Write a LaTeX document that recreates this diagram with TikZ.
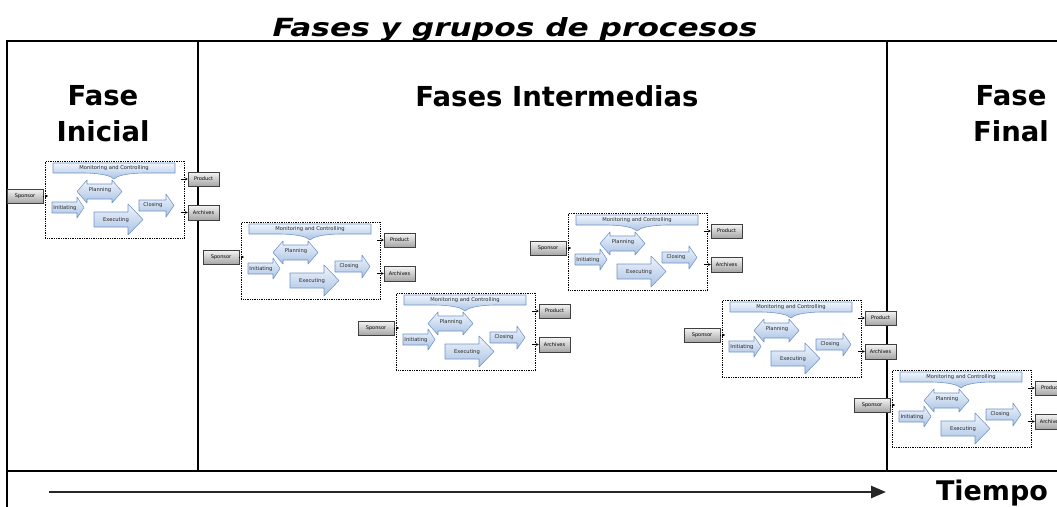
\documentclass[tikz,border=0pt]{standalone}
\usepackage{fontspec}
\setmainfont{DejaVu Sans}
\usetikzlibrary{arrows.meta,shadows,calc}
\definecolor{bluefillA}{HTML}{F0F5FC}
\definecolor{bluefillB}{HTML}{A9C2E4}
\definecolor{blueline}{HTML}{6F93C6}
\definecolor{txtgray}{HTML}{262626}
\tikzset{
 frameline/.style={line width=2.4pt, line cap=rect},
 procarrow/.style={draw=blueline, line width=0.55pt, top color=bluefillA, bottom color=bluefillB, line join=round},
 plabel/.style={font=\fontsize{5.2}{6}\selectfont, text=txtgray, inner sep=0pt},
 graybox/.style={draw=black!75, line width=0.5pt, top color=gray!8, bottom color=gray!70, font=\fontsize{5}{6}\selectfont, inner sep=0pt, drop shadow={shadow xshift=0.8pt, shadow yshift=-0.8pt, opacity=0.35}},
 dbox/.style={draw, densely dotted, line width=0.75pt, minimum width=139pt, minimum height=77pt, inner sep=0pt, anchor=north west},
 conn/.style={line width=0.5pt, -{Stealth[length=2.6pt,width=2.6pt]}},
 phaselabel/.style={font=\fontsize{27.5}{36}\selectfont\bfseries, align=center, inner sep=0pt}
}
\newcommand\procblock[3]{%
 \begin{scope}[shift={(#2,#3)}]
  \node[dbox] (#1box) at (0,0) {};
  \draw[procarrow] (8,2) -- (130,2) -- (130,12) -- (98,12) .. controls (80,12.5) and (72,15) .. (69,18) .. controls (66,15) and (58,12.5) .. (40,12) -- (8,12) -- cycle;
  \node[plabel] (#1mc) at (69,7) {Monitoring and Controlling};
  \draw[procarrow] (32,30.5) -- (42,19) -- (42,23) -- (67,23) -- (67,19) -- (77,30.5) -- (67,42) -- (67,38) -- (42,38) -- (42,42) -- cycle;
  \node[plabel] (#1pl) at (55,29) {Planning};
  \draw[procarrow] (7,41) -- (32,41) -- (32,36) -- (39,46.5) -- (32,57) -- (32,52) -- (7,52) -- cycle;
  \node[plabel] (#1in) at (20,47) {Initiating};
  \draw[procarrow] (49,51) -- (83,51) -- (83,43) -- (98,58.5) -- (83,74) -- (83,66) -- (49,66) -- cycle;
  \node[plabel] (#1ex) at (71,59) {Executing};
  \draw[procarrow] (94,39) -- (121,39) -- (121,33) -- (129,44.5) -- (121,56) -- (121,50) -- (94,50) -- cycle;
  \node[plabel] (#1cl) at (108,44.5) {Closing};
  \node[graybox, minimum width=36pt, minimum height=14pt] (#1sp) at (-20,35) {Sponsor};
  \node[graybox, minimum width=31pt, minimum height=14pt] (#1prod) at (158.5,18) {Product};
  \node[graybox, minimum width=31pt, minimum height=15pt] (#1arch) at (158.5,51.5) {Archives};
  \draw[conn, densely dotted] (#1sp.east) -- ([xshift=3pt]#1sp.east -| #1box.west);
  \draw[conn] ([xshift=-4pt]#1prod.west -| #1box.east) -- (#1prod.west);
  \draw[conn] ([xshift=-4pt]#1arch.west -| #1box.east) -- (#1arch.west);
 \end{scope}}
\begin{document}
\begin{tikzpicture}[x=1pt,y=-1pt]
\useasboundingbox (0,0) rectangle (1057,506);
\clip (0,0) rectangle (1057,506);
% frame
\draw[frameline] (7,510) -- (7,41) -- (1062,41);
\draw[frameline] (7,471) -- (1062,471);
\draw[frameline] (198,41) -- (198,471);
\draw[frameline] (887,41) -- (887,471);
% title and phases
\node[font=\fontsize{25}{30}\selectfont\bfseries\itshape, anchor=base, inner sep=0pt] (title) at (515,36) {\scalebox{1.25}[1]{Fases y grupos de procesos}};
\node[phaselabel, anchor=base] (fini) at (103,141) {Fase\\Inicial};
\node[phaselabel, anchor=base] (fmid) at (557,106) {Fases Intermedias};
\node[phaselabel, anchor=base] (ffin) at (1011,141) {Fase\\Final};
% blocks
\procblock{b1}{45}{161}
\procblock{b2}{241}{222}
\procblock{b3}{396}{293}
\procblock{b4}{568}{213}
\procblock{b5}{722}{300}
\procblock{b6}{892}{370}
% time
\coordinate (t0) at (49,492);
\coordinate (t1) at (886,492);
\draw[line width=2.6pt, black!85, -{Triangle[length=15pt,width=12pt]}] (t0) -- (t1);
\node[font=\fontsize{27}{30}\selectfont\bfseries, anchor=base, inner sep=0pt] (tiempo) at (992,500) {Tiempo};
\end{tikzpicture}
\end{document}
